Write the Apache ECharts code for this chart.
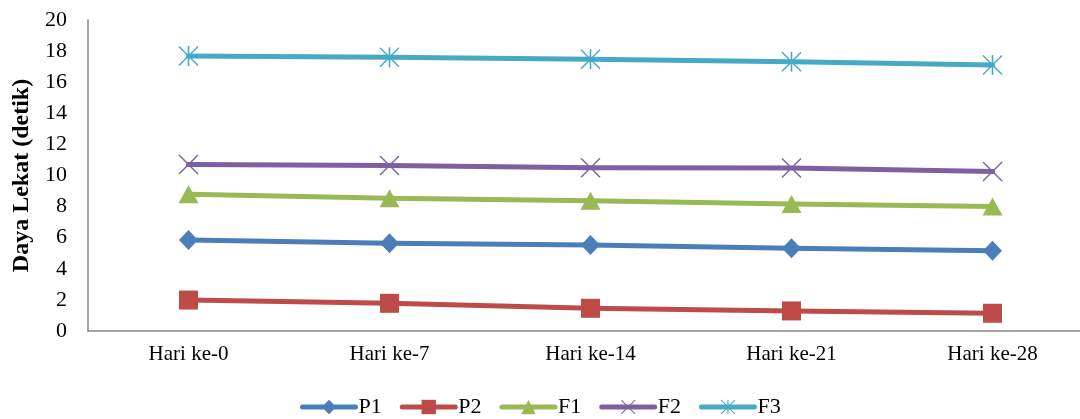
<!DOCTYPE html>
<html>
<head>
<meta charset="utf-8">
<script src="https://cdn.jsdelivr.net/npm/echarts@6/dist/echarts.min.js"></script>
<style>
html,body{margin:0;padding:0;background:#fff;overflow:hidden;}
#chart{width:1093px;height:419px;}
</style>
</head>
<body>
<div id="chart"></div>
<script>
var categories = ['Hari ke-0', 'Hari ke-7', 'Hari ke-14', 'Hari ke-21', 'Hari ke-28'];
var seriesNames = ['P1', 'P2', 'F1', 'F2', 'F3'];
var P1 = [5.85, 5.64, 5.53, 5.32, 5.16];
var P2 = [1.99, 1.78, 1.46, 1.29, 1.14];
var F1 = [8.79, 8.53, 8.38, 8.17, 8.00];
var F2 = [10.70, 10.64, 10.50, 10.48, 10.25];
var F3 = [17.68, 17.60, 17.47, 17.32, 17.11];
var yMin = 0, yMax = 20, yInterval = 2;

var colors = ['#4A7EBB', '#BE4B48', '#98B954', '#7D60A0', '#46AAC5'];
var xPath = 'path://M0,1L1,0L20,19L19,20Z M19,0L20,1L1,20L0,19Z';
var starPath = 'path://M0,1L1,0L20,19L19,20Z M19,0L20,1L1,20L0,19Z M9.2,0L10.8,0L10.8,20L9.2,20Z';
var symbols = ['diamond', 'rect', 'triangle', xPath, starPath];
var sizes = [[19, 20], 19, [20, 18], 20, 20];
var dataSets = [P1, P2, F1, F2, F3];

var font = '"Liberation Serif", "Times New Roman", serif';

var series = seriesNames.map(function (n, i) {
  return {
    name: n,
    type: 'line',
    data: dataSets[i],
    symbol: symbols[i],
    symbolSize: sizes[i],
    showAllSymbol: true,
    lineStyle: { color: colors[i], width: 5, cap: 'round', join: 'round' },
    itemStyle: { color: colors[i], borderWidth: 0 },
    emphasis: { disabled: true },
    animation: false
  };
});

var chart = echarts.init(document.getElementById('chart'), null, { renderer: 'canvas' });
chart.setOption({
  backgroundColor: '#ffffff',
  animation: false,
  color: colors,
  grid: { left: 88, top: 20, right: 0, bottom: 88, containLabel: false },
  legend: {
    data: seriesNames,
    left: 295,
    top: 391,
    itemWidth: 53,
    itemHeight: 18,
    itemGap: 18,
    lineStyle: { width: 5, cap: 'round' },
    textStyle: { fontFamily: font, fontSize: 22, color: '#000', padding: [0, 0, 0, -2] }
  },
  xAxis: {
    type: 'category',
    data: categories,
    boundaryGap: true,
    axisLine: { lineStyle: { color: '#868686', width: 1.5 } },
    axisTick: { show: false },
    axisLabel: { fontFamily: font, fontSize: 21, color: '#000', margin: 13, interval: 0 },
    splitLine: { show: false }
  },
  yAxis: {
    type: 'value',
    min: yMin,
    max: yMax,
    interval: yInterval,
    name: 'Daya Lekat (detik)',
    nameLocation: 'middle',
    nameGap: 51,
    nameTextStyle: { fontFamily: font, fontSize: 24, fontWeight: 'bold', color: '#000' },
    axisLine: { show: true, lineStyle: { color: '#868686', width: 1.5 } },
    axisTick: { show: false },
    axisLabel: { fontFamily: font, fontSize: 22, color: '#000', margin: 21 },
    splitLine: { show: false }
  },
  series: series
});
</script>
</body>
</html>
